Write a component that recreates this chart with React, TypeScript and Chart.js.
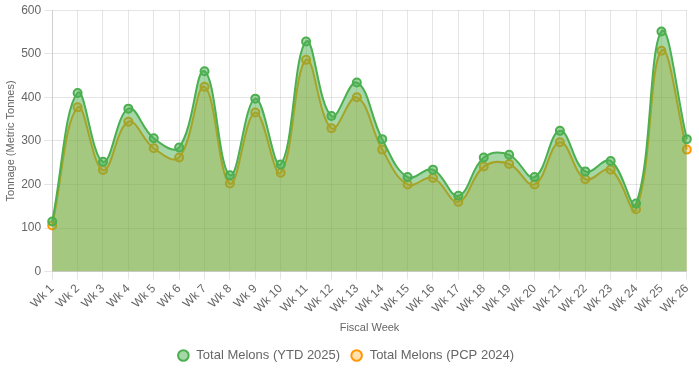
import React, { useEffect, useRef } from "react";
import { Chart, registerables } from "chart.js";

Chart.register(...registerables);

const weeks = ["Wk 1","Wk 2","Wk 3","Wk 4","Wk 5","Wk 6","Wk 7","Wk 8","Wk 9","Wk 10","Wk 11","Wk 12","Wk 13","Wk 14","Wk 15","Wk 16","Wk 17","Wk 18","Wk 19","Wk 20","Wk 21","Wk 22","Wk 23","Wk 24","Wk 25","Wk 26"];
const ytd2025 = [115,410,252,374,306,285,460,221,397,246,528,357,434,304,217,234,174,262,268,217,323,230,254,156,551,304];
const pcp2024 = [106,377,233,344,283,262,424,202,365,227,486,329,400,280,200,215,160,241,247,200,297,212,234,143,507,280];

export default function App() {
  const ref = useRef<HTMLCanvasElement>(null);
  useEffect(() => {
    document.body.style.margin = "0";
    const chart = new Chart(ref.current!, {
      type: "line",
      data: {
        labels: weeks,
        datasets: [
          {
            label: "Total Melons (YTD 2025)",
            data: ytd2025,
            borderColor: "#4CAF50",
            backgroundColor: "rgba(76,175,80,0.5)",
            pointBackgroundColor: "rgba(76,175,80,0.5)",
            pointBorderColor: "#4CAF50",
            borderWidth: 2,
            pointBorderWidth: 2,
            pointRadius: 4,
            tension: 0.4,
            fill: "origin",
          },
          {
            label: "Total Melons (PCP 2024)",
            data: pcp2024,
            borderColor: "#FF9800",
            backgroundColor: "rgba(255,152,0,0.3)",
            pointBackgroundColor: "rgba(255,152,0,0.3)",
            pointBorderColor: "#FF9800",
            borderWidth: 2,
            pointBorderWidth: 2,
            pointRadius: 4,
            tension: 0.4,
            fill: "origin",
          },
        ],
      },
      options: {
        animation: false,
        responsive: true,
        maintainAspectRatio: false,
        layout: { padding: { top: 1, right: 8, bottom: -3, left: 0 } },
        plugins: {
          legend: {
            position: "bottom",
            labels: { usePointStyle: true, boxWidth: 13, boxHeight: 7.5, color: "#666", font: { size: 13 } },
          },
          tooltip: { enabled: false },
        },
        scales: {
          x: {
            title: { display: true, text: "Fiscal Week", color: "#666", font: { size: 11 } },
            ticks: { color: "#666", maxRotation: 45, minRotation: 45, padding: 2, font: { size: 12 } },
            grid: { color: "rgba(0,0,0,0.1)" },
          },
          y: {
            min: 0,
            max: 600,
            title: { display: true, text: "Tonnage (Metric Tonnes)", color: "#666", font: { size: 11 }, padding: { top: 4, bottom: 1 } },
            ticks: { color: "#666", stepSize: 100, font: { size: 12 } },
            grid: { color: "rgba(0,0,0,0.1)" },
          },
        },
      },
    });
    return () => chart.destroy();
  }, []);
  return (
    <div style={{ position: "relative", width: 699, height: 369 }}>
      <canvas ref={ref} />
    </div>
  );
}
